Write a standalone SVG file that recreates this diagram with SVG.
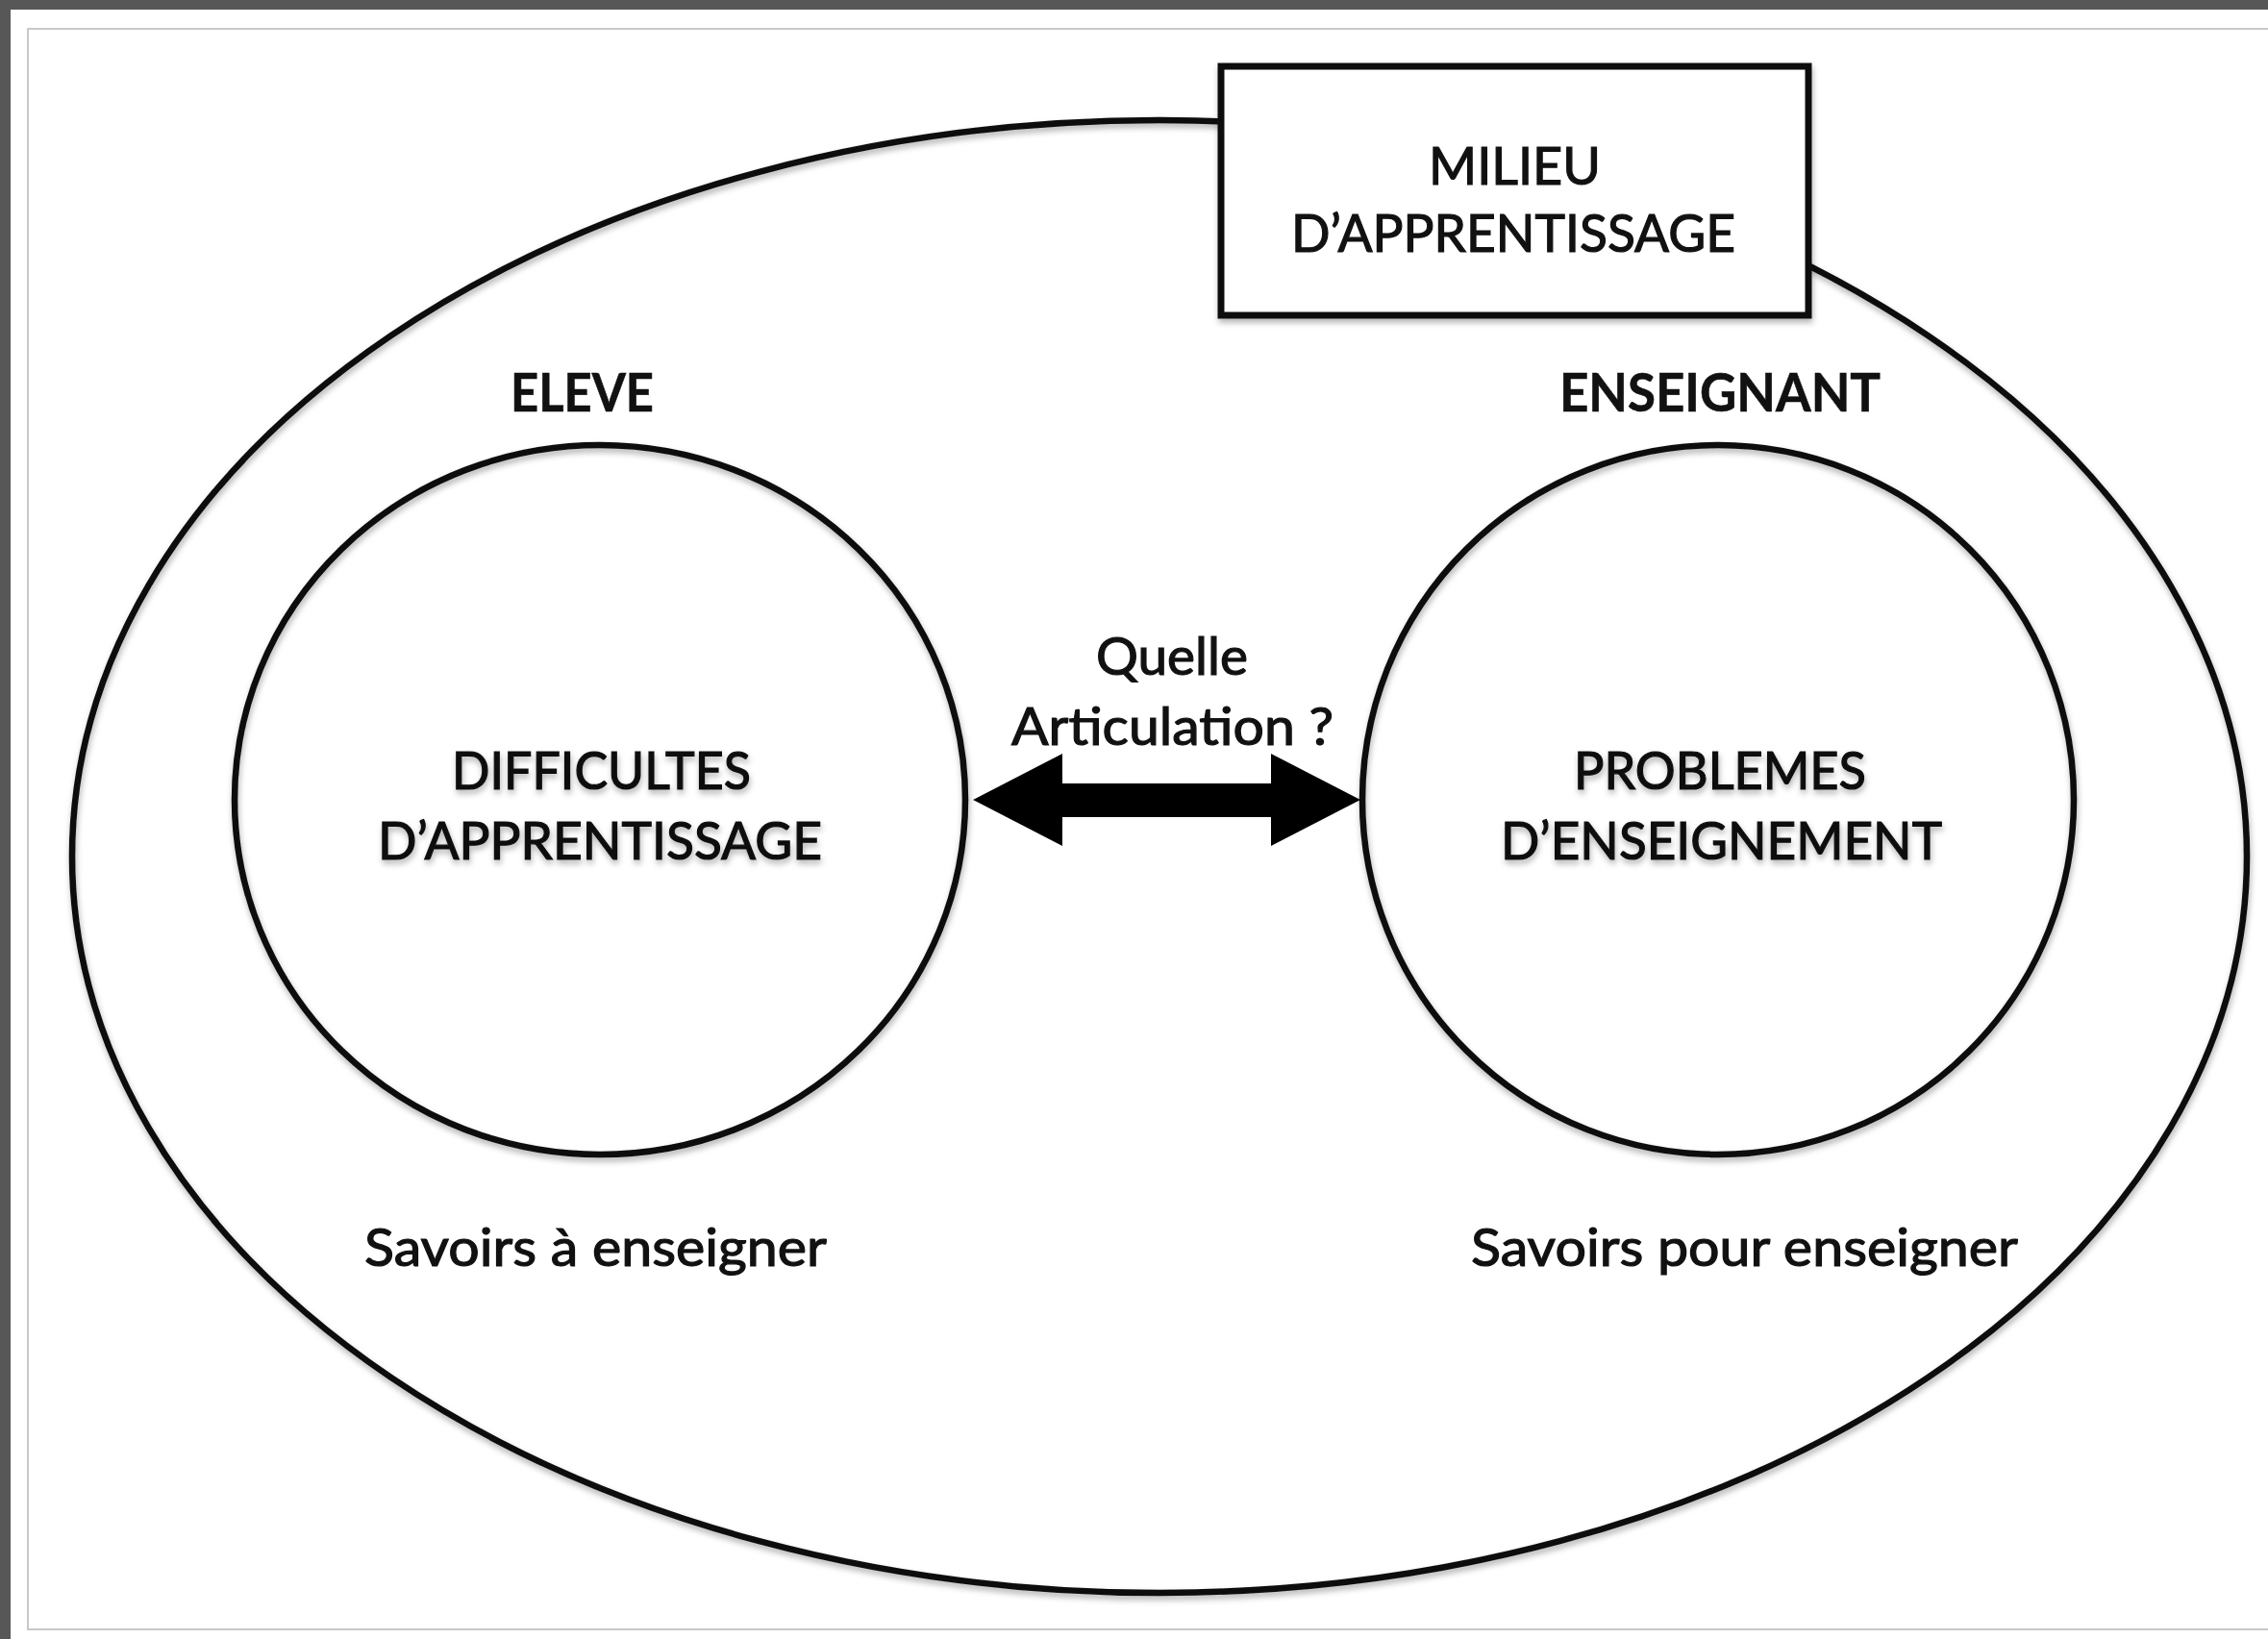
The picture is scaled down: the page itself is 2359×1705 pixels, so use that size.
<svg xmlns="http://www.w3.org/2000/svg" width="2359" height="1705" viewBox="0 0 2359 1705">
<defs>
<filter id="sh" x="-10%" y="-10%" width="120%" height="130%">
<feDropShadow dx="1" dy="4" stdDeviation="3" flood-color="#000" flood-opacity="0.3"/>
</filter>
<style>
.ln{fill:none;stroke:#111;stroke-width:6.5}
.tx{font-family:Lato,"Open Sans","Liberation Sans",sans-serif;font-size:55px;fill:#111;stroke:#111;stroke-width:1.2;text-anchor:start}
.b{font-weight:bold;stroke-width:0.6}
</style>
</defs>
<rect x="0" y="0" width="2359" height="1705" fill="#575757"/>
<rect x="11" y="10" width="2348" height="1695" fill="#fff"/>
<rect x="29" y="30" width="2340" height="1665" fill="#fff" stroke="#c8c8c8" stroke-width="2"/>

<g id="milieu">
<ellipse class="ln" cx="1206" cy="891" rx="1131" ry="766" filter="url(#sh)"/>
</g>

<g id="milieu-label">
<rect x="1270" y="69" width="611" height="259" fill="#fff" stroke="#111" stroke-width="7" filter="url(#sh)"/>
<text class="tx" x="1486" y="192" textLength="179" lengthAdjust="spacingAndGlyphs">MILIEU</text>
<text class="tx" x="1343" y="262" textLength="462" lengthAdjust="spacingAndGlyphs">D’APPRENTISSAGE</text>
</g>

<g id="eleve">
<text class="tx b" x="531" y="428" textLength="149" lengthAdjust="spacingAndGlyphs">ELEVE</text>
<ellipse class="ln" cx="624" cy="832" rx="380" ry="369" fill="#fff" filter="url(#sh)"/>
<g filter="url(#sh)">
<text class="tx" x="470" y="821" textLength="311" lengthAdjust="spacingAndGlyphs">DIFFICULTES</text>
<text class="tx" x="393" y="894" textLength="462" lengthAdjust="spacingAndGlyphs">D’APPRENTISSAGE</text>
</g>
<text class="tx" x="379" y="1317" textLength="481" lengthAdjust="spacingAndGlyphs">Savoirs à enseigner</text>
</g>

<g id="enseignant">
<text class="tx b" x="1622" y="428" textLength="334" lengthAdjust="spacingAndGlyphs">ENSEIGNANT</text>
<ellipse class="ln" cx="1787" cy="832" rx="370" ry="369" fill="#fff" filter="url(#sh)"/>
<g filter="url(#sh)">
<text class="tx" x="1637" y="821" textLength="304" lengthAdjust="spacingAndGlyphs">PROBLEMES</text>
<text class="tx" x="1561" y="894" textLength="459" lengthAdjust="spacingAndGlyphs">D’ENSEIGNEMENT</text>
</g>
<text class="tx" x="1530" y="1317" textLength="569" lengthAdjust="spacingAndGlyphs">Savoirs pour enseigner</text>
</g>

<g id="connectors">
<polygon points="1012,832 1105,784 1105,815 1322,815 1322,784 1415,832 1322,880 1322,850 1105,850 1105,880" fill="#000"/>
<text class="tx" x="1140" y="702" textLength="158" lengthAdjust="spacingAndGlyphs">Quelle</text>
<text class="tx" x="1052" y="775" textLength="335" lengthAdjust="spacingAndGlyphs">Articulation ?</text>
</g>
</svg>
